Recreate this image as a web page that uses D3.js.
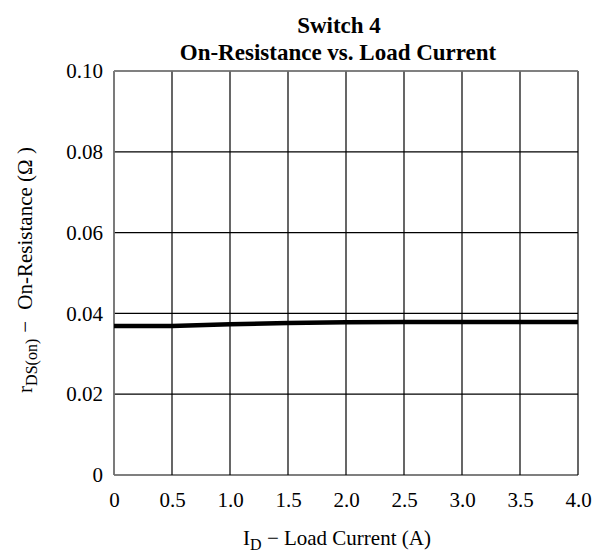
<!DOCTYPE html>
<html>
<head>
<meta charset="utf-8">
<script src="https://cdn.jsdelivr.net/npm/d3@7"></script>
<style>
  body { margin: 0; background: #fff; }
  text { font-family: "Liberation Serif", "Times New Roman", serif; fill: #000; }
  .grid line { stroke: #000; stroke-width: 1.2; }
  .axis path, .axis line { display: none; }
  .axis text { font-size: 21px; font-family: "Liberation Serif", serif; }
</style>
</head>
<body>
<div id="chart-area"></div>
<script>
const current = [0, 0.5, 1.0, 1.5, 2.0, 2.5, 3.0, 3.5, 4.0];
const resistance = [0.0369, 0.0369, 0.0373, 0.0376, 0.0378, 0.0379, 0.0379, 0.0379, 0.0379];
const xTicks = [0, 0.5, 1.0, 1.5, 2.0, 2.5, 3.0, 3.5, 4.0];
const yTicks = [0, 0.02, 0.04, 0.06, 0.08, 0.10];
const titleLines = ["Switch 4", "On-Resistance vs. Load Current"];

const chartSize = { width: 599, height: 558 };
const margin = { left: 114, right: 21, top: 71, bottom: 83 };
const width = chartSize.width - margin.left - margin.right;
const height = chartSize.height - margin.top - margin.bottom;

const svg = d3
  .select("#chart-area")
  .append("svg")
  .attr("width", chartSize.width)
  .attr("height", chartSize.height);

const g = svg
  .append("g")
  .attr("transform", `translate(${margin.left}, ${margin.top})`);

const x = d3.scaleLinear().domain([0, 4]).range([0, width]);
const y = d3.scaleLinear().domain([0, 0.1]).range([height, 0]);

// grid
g.append("g")
  .attr("class", "grid")
  .selectAll("line")
  .data(xTicks)
  .join("line")
  .attr("x1", d => x(d))
  .attr("x2", d => x(d))
  .attr("y1", 0)
  .attr("y2", height);

g.append("g")
  .attr("class", "grid")
  .selectAll("line")
  .data(yTicks)
  .join("line")
  .attr("x1", 0)
  .attr("x2", width)
  .attr("y1", d => y(d))
  .attr("y2", d => y(d));

// gray spines on left and top
g.append("line")
  .attr("x1", 0).attr("x2", 0)
  .attr("y1", 0).attr("y2", height)
  .attr("stroke", "#808080").attr("stroke-width", 1.6);
g.append("line")
  .attr("x1", 0).attr("x2", width)
  .attr("y1", 0).attr("y2", 0)
  .attr("stroke", "#808080").attr("stroke-width", 1.6);

// axes (labels only)
const xAxis = d3.axisBottom(x)
  .tickValues(xTicks)
  .tickFormat(d => (d === 0 ? "0" : d3.format(".1f")(d)))
  .tickSize(0)
  .tickPadding(17);
g.append("g")
  .attr("class", "x axis")
  .attr("transform", `translate(0, ${height})`)
  .call(xAxis);

const yAxis = d3.axisLeft(y)
  .tickValues(yTicks)
  .tickFormat(d => (d === 0 ? "0" : d3.format(".2f")(d)))
  .tickSize(0)
  .tickPadding(11);
g.append("g")
  .attr("class", "y axis")
  .call(yAxis);

// data line
const line = d3.line()
  .x((d, i) => x(current[i]))
  .y(d => y(d));

g.append("path")
  .attr("d", line(resistance))
  .attr("fill", "none")
  .attr("stroke", "#000")
  .attr("stroke-width", 4.5);

// title
svg.append("text")
  .attr("x", 339)
  .attr("y", 33)
  .attr("text-anchor", "middle")
  .attr("font-size", 23)
  .attr("font-weight", "bold")
  .text(titleLines[0]);
svg.append("text")
  .attr("x", 338)
  .attr("y", 60)
  .attr("text-anchor", "middle")
  .attr("font-size", 23)
  .attr("font-weight", "bold")
  .text(titleLines[1]);

// x label
const xl = svg.append("text")
  .attr("x", 337)
  .attr("y", 545)
  .attr("text-anchor", "middle")
  .attr("font-size", 21);
xl.append("tspan").text("I");
xl.append("tspan").attr("dy", 5).attr("font-size", 16).text("D");
xl.append("tspan").attr("dy", -5).text(" \u2212 Load Current (A)");

// y label
const yl = svg.append("text")
  .attr("transform", "translate(32, 270) rotate(-90)")
  .attr("text-anchor", "middle")
  .attr("font-size", 21);
yl.append("tspan").text("r");
yl.append("tspan").attr("dy", 5).attr("font-size", 16).text("DS(on)");
yl.append("tspan").attr("dy", -5).attr("dx", 6).text("\u2212");
yl.append("tspan").attr("dx", 6).text(" On-Resistance (\u03A9 )");
</script>
</body>
</html>
